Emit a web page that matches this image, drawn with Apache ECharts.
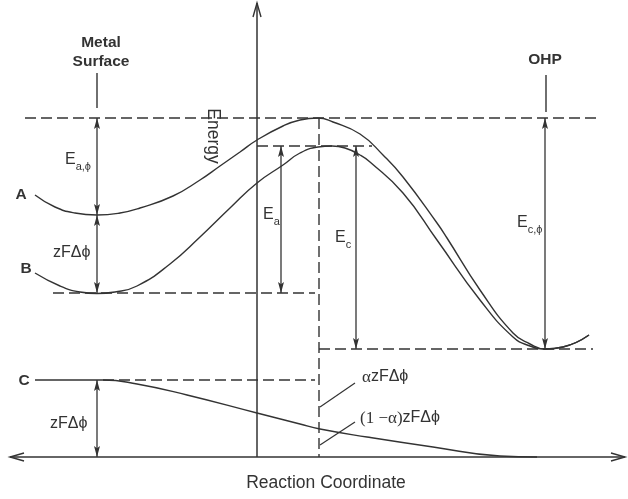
<html>
    <head>
        <meta charset="utf-8">
        <title>Reaction coordinate</title>
        <script src="https://cdn.jsdelivr.net/npm/echarts@6/dist/echarts.min.js"></script>
        <style>
            html, body { margin: 0; padding: 0; background: #fff; }
            #energyChart { width: 628px; height: 499px; }
        </style>
    </head>
    <body>
        <div id="energyChart"></div>
        <script type="text/javascript">
            // x = reaction coordinate, y = energy (0 on the reaction coordinate axis)
            var curveA = [[35, 262], [55, 250], [75, 244], [97, 242], [120, 244], [140, 249], [173, 261], [200, 277],
                          [220, 291], [240, 305], [257, 317], [283, 331], [300, 337], [318, 339], [333, 335], [360, 323],
                          [383, 302], [403, 280], [437, 234], [447, 219], [480, 167], [513, 124], [530, 113], [545, 108],
                          [563, 110], [589, 122]];
            var curveB = [[35, 184], [60, 171], [80, 165], [97, 163.5], [115, 165], [137, 171], [170, 193], [200, 220],
                          [230, 249], [257, 274], [283, 292], [300, 304], [318, 310], [332, 311], [345, 309], [360, 302],
                          [370, 295], [403, 264], [437, 217], [480, 157], [513, 120], [530, 111], [545, 108],
                          [563, 110], [589, 122]];
            var curveC = [[35, 77], [103, 77], [137, 73], [187, 62], [257, 44], [300, 33], [320, 28], [367, 20],
                          [433, 10], [500, 1], [537, 0]];

            // segments: [x1, y1, x2, y2]
            var dashedLines = [[25, 339, 598, 339], [257, 311, 372, 311], [53, 164, 315, 164],
                               [319, 108, 593, 108], [103, 77, 315, 77], [319, 339, 319, 0]];
            var markerLines = [[97, 384, 97, 349], [546, 382, 546, 345]];
            var leaderLines = [[320, 50, 355, 74], [320, 12, 355, 35]];
            var doubleArrows = [[97, 339, 97, 242], [97, 242, 97, 164], [97, 77, 97, 0],
                                [281, 311, 281, 164], [356, 311, 356, 108], [545, 339, 545, 108]];
            var axisBoth = [[10, 0, 625, 0]];
            var axisUp = [[257, 0, 257, 454]];

            var headText = ['Metal', 'Surface', 'OHP', 'A', 'B', 'C'];
            var headAt = [[101, 414], [101, 395], [545, 397], [21, 262], [26, 188], [24, 76]];
            var termText = ['{m|E}{s|a,ϕ}', '{m|zFΔϕ}', '{m|zFΔϕ}', '{m|E}{s|a}', '{m|E}{s|c}', '{m|E}{s|c,ϕ}',
                            '{g|α}{m|zFΔϕ}', '{g|(1 −α)}{m|zFΔϕ}'];
            var termAt = [[65, 295], [53, 202], [50, 31], [263, 240], [335, 217], [517, 232], [362, 78], [360, 37]];
            var titleText = ['Reaction Coordinate', 'Energy'];
            var titleAt = [[326, -26], [213, 321]];

            var INK = '#333';
            var SANS = '"Liberation Sans", Arial, sans-serif';
            var SERIF = '"Liberation Serif", "Times New Roman", serif';

            function arrowHead(from, tip, open) {
                var dx = tip[0] - from[0], dy = tip[1] - from[1];
                var len = Math.sqrt(dx * dx + dy * dy);
                var ux = dx / len, uy = dy / len;
                var L = open ? 14 : 11, W = open ? 4 : 3;
                var bx = tip[0] - ux * L, by = tip[1] - uy * L;
                var left = [bx - uy * W, by + ux * W], right = [bx + uy * W, by - ux * W];
                if (open) {
                    return {type: 'polyline', shape: {points: [left, tip, right]},
                            style: {stroke: INK, lineWidth: 1.4, fill: null}};
                }
                var notch = [tip[0] - ux * L * 0.8, tip[1] - uy * L * 0.8];
                return {type: 'polygon', shape: {points: [tip, left, notch, right]}, style: {fill: INK}};
            }

            function segments(data, look) {
                return {
                    type: 'custom',
                    coordinateSystem: 'cartesian2d',
                    silent: true,
                    clip: false,
                    data: data,
                    renderItem: function (params, api) {
                        var p1 = api.coord([api.value(0), api.value(1)]);
                        var p2 = api.coord([api.value(2), api.value(3)]);
                        var kids = [{
                            type: 'line',
                            shape: {x1: p1[0], y1: p1[1], x2: p2[0], y2: p2[1]},
                            style: {stroke: INK, lineWidth: look.width, lineDash: look.dash || null}
                        }];
                        if (look.start) kids.push(arrowHead(p2, p1, look.open));
                        if (look.end) kids.push(arrowHead(p1, p2, look.open));
                        return {type: 'group', children: kids};
                    }
                };
            }

            var termRich = {
                m: {fontSize: 16, fontFamily: SANS, lineHeight: 20, verticalAlign: 'top', fill: INK},
                s: {fontSize: 11, fontFamily: SANS, lineHeight: 6, verticalAlign: 'bottom', fill: INK},
                g: {fontSize: 17, fontFamily: SERIF, lineHeight: 20, verticalAlign: 'top', fill: INK}
            };

            function labels(points, texts, look) {
                return {
                    type: 'custom',
                    coordinateSystem: 'cartesian2d',
                    silent: true,
                    clip: false,
                    data: points,
                    renderItem: function (params, api) {
                        var p = api.coord([api.value(0), api.value(1)]);
                        var txt = texts[params.dataIndex];
                        return {
                            type: 'text',
                            x: p[0],
                            y: p[1],
                            rotation: txt === 'Energy' ? -Math.PI / 2 : 0,
                            style: {
                                text: txt,
                                font: look.font,
                                fill: INK,
                                align: look.align,
                                verticalAlign: 'middle',
                                rich: look.rich
                            }
                        };
                    }
                };
            }

            function curve(points) {
                return {
                    type: 'line',
                    data: points,
                    smooth: 0.5,
                    symbol: 'none',
                    silent: true,
                    lineStyle: {color: INK, width: 1.4}
                };
            }

            var dom = document.getElementById("energyChart");
            var myChart = echarts.init(dom);

            var option = {
                backgroundColor: '#fff',
                animation: false,
                grid: {left: 0, right: 0, top: 0, bottom: 0},
                xAxis: {type: 'value', min: 0, max: 628, show: false},
                yAxis: {type: 'value', min: -42, max: 457, show: false},
                series: [
                    curve(curveA),
                    curve(curveB),
                    curve(curveC),
                    segments(dashedLines, {width: 1.4, dash: [11, 5]}),
                    segments(markerLines, {width: 1.4}),
                    segments(leaderLines, {width: 1.2}),
                    segments(doubleArrows, {width: 1.3, start: true, end: true}),
                    segments(axisBoth, {width: 1.5, start: true, end: true, open: true}),
                    segments(axisUp, {width: 1.5, end: true, open: true}),
                    labels(headAt, headText, {font: 'bold 15.5px ' + SANS, align: 'center'}),
                    labels(termAt, termText, {font: '16px ' + SANS, align: 'left', rich: termRich}),
                    labels(titleAt, titleText, {font: '17.5px ' + SANS, align: 'center'})
                ]
            };
            if (option && typeof option === "object") {
                myChart.setOption(option, true);
            }
        </script>
    </body>
</html>
